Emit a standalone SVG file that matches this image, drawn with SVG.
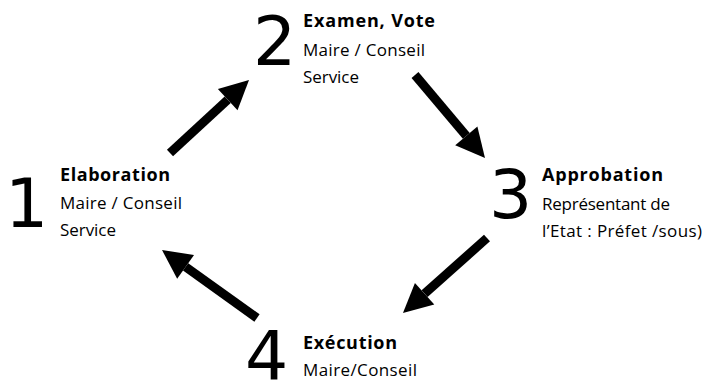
<svg xmlns="http://www.w3.org/2000/svg" width="704" height="381" viewBox="0 0 704 381">
<style>
.num{font-family:"DejaVu Sans","Open Sans",sans-serif;font-size:68px;fill:#000}
.hd{font-family:"Open Sans","Liberation Sans",Arial,sans-serif;font-size:18px;font-weight:bold;fill:#000}
.tx{font-family:"Open Sans","Liberation Sans",Arial,sans-serif;font-size:17px;fill:#000}
.arr{stroke:#000;stroke-width:9;fill:none;marker-end:url(#ah)}
</style>
<defs>
<marker id="ah" markerUnits="userSpaceOnUse" markerWidth="32" markerHeight="32" refX="0" refY="14.5" orient="auto" overflow="visible">
<path d="M0,0 L29,14.5 L0,29 Z" fill="#000"/>
</marker>
</defs>
<rect width="704" height="381" fill="#fff"/>
<g id="connectors">
<line class="arr" x1="170" y1="153" x2="227.7" y2="99.7"/>
<line class="arr" x1="415" y1="75" x2="466.3" y2="135.8"/>
<line class="arr" x1="487" y1="238" x2="424.6" y2="293.7"/>
<line class="arr" x1="257" y1="318" x2="185.6" y2="266.9"/>
</g>
<g id="node1">
<text class="num" x="5" y="227">1</text>
<text class="hd" x="60" y="181" textLength="110">Elaboration</text>
<text class="tx" x="60" y="209" textLength="122">Maire / Conseil</text>
<text class="tx" x="60" y="236" textLength="56">Service</text>
</g>
<g id="node2">
<text class="num" x="253" y="65">2</text>
<text class="hd" x="303" y="27" textLength="132">Examen, Vote</text>
<text class="tx" x="303" y="56" textLength="122">Maire / Conseil</text>
<text class="tx" x="303" y="83" textLength="56">Service</text>
</g>
<g id="node3">
<text class="num" x="489" y="218">3</text>
<text class="hd" x="542" y="181" textLength="121">Approbation</text>
<text class="tx" x="542" y="210" textLength="128">Représentant de</text>
<text class="tx" x="542" y="237" textLength="160">l’Etat : Préfet /sous)</text>
</g>
<g id="node4">
<text class="num" x="245" y="380">4</text>
<text class="hd" x="303" y="349" textLength="94">Exécution</text>
<text class="tx" x="303" y="376" textLength="114">Maire/Conseil</text>
</g>
</svg>
